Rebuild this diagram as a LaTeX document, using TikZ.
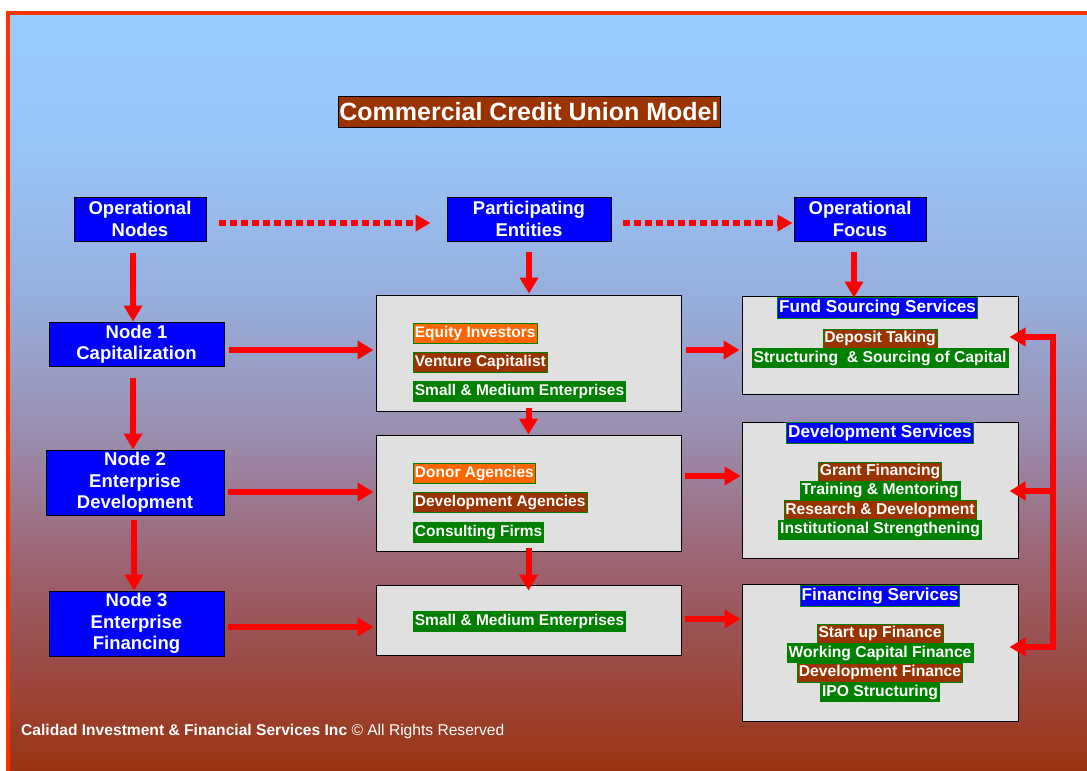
\documentclass[tikz,border=0pt]{standalone}
\usepackage{fontspec}
\setmainfont{Liberation Sans}
\usetikzlibrary{arrows.meta,calc}
\definecolor{cblue}{HTML}{0000FF}
\definecolor{corange}{HTML}{FF6600}
\definecolor{cbrown}{HTML}{993300}
\definecolor{cgreen}{HTML}{008000}
\definecolor{cgray}{HTML}{E0E0E0}
\definecolor{cred}{HTML}{FF0000}
\definecolor{cframe}{HTML}{FF3300}
\definecolor{bgA}{RGB}{153,204,255}
\definecolor{bgB}{RGB}{152,196,246}
\definecolor{bgC}{RGB}{151,174,220}
\definecolor{bgD}{RGB}{154,143,176}
\definecolor{bgE}{RGB}{156,100,115}
\definecolor{bgF}{RGB}{155,70,62}
\definecolor{bgG}{RGB}{153,51,12}
\begin{document}
\begin{tikzpicture}[x=1pt,y=-1pt,
  bluebox/.style={draw=black,line width=1pt,fill=cblue,text=white,
    font=\fontsize{18.5}{21.5}\selectfont\bfseries,align=center,inner sep=0pt},
  graybox/.style={draw=black,line width=1pt,fill=cgray,inner sep=0pt},
  lab/.style={text=white,font=\fontsize{15.5}{18}\selectfont\bfseries,
    text height=11.5pt,text depth=3.5pt,inner ysep=2.5pt,inner xsep=1.5pt,
    draw=cgreen,line width=0.8pt},
  ritem/.style={text=white,font=\fontsize{15.7}{19}\selectfont\bfseries,
    text height=11.6pt,text depth=3.4pt,inner ysep=2.2pt,inner xsep=1.5pt,
    draw=cgreen,line width=0.6pt},
  rhead/.style={fill=cblue,text=white,font=\fontsize{17.2}{20}\selectfont\bfseries,
    text height=12.3pt,text depth=4pt,inner ysep=2.3pt,inner xsep=1.5pt,
    draw=cgreen,line width=0.8pt},
  arr/.style={draw=cred,line width=6pt,-{Triangle[length=16pt,width=18pt]}},
  darr/.style={draw=cred,line width=6pt,dash pattern=on 7pt off 4pt,
    -{Triangle[length=15pt,width=16pt]}},
  ]
\useasboundingbox (0,0) rectangle (1087,771);
\begin{scope}
\clip (0,0) rectangle (1087,771);
\fill[white] (0,0) rectangle (1087,771);
\shade[top color=bgA,bottom color=bgB] (8,13) rectangle (1095,150.5);
\shade[top color=bgB,bottom color=bgC] (8,150) rectangle (1095,300.5);
\shade[top color=bgC,bottom color=bgD] (8,300) rectangle (1095,430.5);
\shade[top color=bgD,bottom color=bgE] (8,430) rectangle (1095,560.5);
\shade[top color=bgE,bottom color=bgF] (8,560) rectangle (1095,680.5);
\shade[top color=bgF,bottom color=bgG] (8,680) rectangle (1095,780);
\draw[cframe,line width=4pt] (8,13) rectangle (1095,773);
\end{scope}

% title
\node[draw=black,line width=1pt,fill=cbrown,text=white,
  font=\fontsize{25}{29}\selectfont\bfseries,minimum width=382pt,minimum height=31pt,inner sep=0pt]
  (title) at (529,111.5) {Commercial Credit Union Model};

% top row
\node[bluebox,minimum width=132pt,minimum height=44pt] (opn) at (140,219) {Operational\\Nodes};
\node[bluebox,minimum width=164pt,minimum height=44pt] (pe) at (529,219) {Participating\\Entities};
\node[bluebox,minimum width=132pt,minimum height=44pt] (of) at (860,219) {Operational\\Focus};

% left nodes
\node[bluebox,minimum width=175pt,minimum height=44pt] (n1) at (136.5,344) {Node 1\\Capitalization};
\node[bluebox,minimum width=178pt,minimum height=65pt] (n2) at (135,482.5) {Node 2\\Enterprise\\Development};
\node[bluebox,minimum width=175pt,minimum height=65pt] (n3) at (136.5,623.5) {Node 3\\Enterprise\\Financing};

% middle boxes
\node[graybox,minimum width=305pt,minimum height=116pt] (m1) at (528.5,353) {};
\node[graybox,minimum width=305pt,minimum height=116pt] (m2) at (528.5,493) {};
\node[graybox,minimum width=305pt,minimum height=70pt] (m3) at (528.5,620) {};

\node[lab,fill=corange,anchor=west] (l1) at (413,333.5) {Equity Investors};
\node[lab,fill=cbrown,anchor=west] (l2) at (413,362.5) {Venture Capitalist};
\node[lab,fill=cgreen,anchor=west] (l3) at (413,391.5) {Small \& Medium Enterprises};
\node[lab,fill=corange,anchor=west] (l4) at (413,473.5) {Donor Agencies};
\node[lab,fill=cbrown,anchor=west] (l5) at (413,502.5) {Development Agencies};
\node[lab,fill=cgreen,anchor=west] (l6) at (413,532.5) {Consulting Firms};
\node[lab,fill=cgreen,anchor=west] (l7) at (413,621.5) {Small \& Medium Enterprises};

% right boxes
\node[graybox,minimum width=276pt,minimum height=98pt] (r1) at (880,345) {};
\node[graybox,minimum width=276pt,minimum height=136pt] (r2) at (880,490) {};
\node[graybox,minimum width=276pt,minimum height=137pt] (r3) at (880,652.5) {};

\node[rhead] (h1) at (877.5,308) {Fund Sourcing Services};
\node[ritem,fill=cbrown] (i1) at (880,338.5) {Deposit Taking};
\node[ritem,fill=cgreen] (i2) at (880,358) {Structuring\ \ \& Sourcing of Capital};

\node[rhead] (h2) at (880,433) {Development Services};
\node[ritem,fill=cbrown] (i3) at (880,471.5) {Grant Financing};
\node[ritem,fill=cgreen] (i4) at (880,490.5) {Training \& Mentoring};
\node[ritem,fill=cbrown] (i5) at (880,510) {Research \& Development};
\node[ritem,fill=cgreen] (i6) at (880,529.5) {Institutional Strengthening};

\node[rhead] (h3) at (880,596) {Financing Services};
\node[ritem,fill=cbrown] (i7) at (880,633.5) {Start up Finance};
\node[ritem,fill=cgreen] (i8) at (880,653) {Working Capital Finance};
\node[ritem,fill=cbrown] (i9) at (880,672.5) {Development Finance};
\node[ritem,fill=cgreen] (i10) at (880,692) {IPO Structuring};

% footer
\node[anchor=west,text=white,inner sep=0pt,font=\fontsize{15.6}{18}\selectfont] (foot) at (21,731)
  {\textbf{Calidad Investment \& Financial Services Inc} © All Rights Reserved};

% dotted arrows
\draw[darr] ([xshift=12pt,yshift=-4pt]opn.east) -- ([xshift=-16pt,yshift=-4pt]pe.west);
\draw[darr] ([xshift=11pt,yshift=-4pt]pe.east) -- ([xshift=-1pt,yshift=-4pt]of.west);

% left column arrows
\draw[arr,shorten <=11pt] ([xshift=-7pt]opn.south) -- ([xshift=-7pt]opn.south |- n1.north);
\draw[arr,shorten <=11pt] ([xshift=-3.5pt]n1.south) -- ([xshift=-3.5pt]n1.south |- n2.north);
\draw[arr,shorten <=4pt] ([xshift=-1pt]n2.south) -- ([xshift=-1pt]n2.south |- n3.north);

% left to middle
\draw[arr,shorten <=4pt] ([yshift=-6pt]n1.east) -- ([yshift=-6pt,xshift=-2pt]n1.east -| m1.west);
\draw[arr,shorten <=3pt] ([yshift=-9.5pt]n2.east) -- ([yshift=-9.5pt,xshift=-2pt]n2.east -| m2.west);
\draw[arr,shorten <=3pt] ([yshift=-3.5pt]n3.east) -- ([yshift=-3.5pt,xshift=-2pt]n3.east -| m3.west);

% middle column arrows
\draw[arr,shorten <=10pt] (pe.south) -- ([yshift=1pt]pe.south |- m1.north);
\draw[arr,shorten <=-4pt] (m1.south) -- (m2.north);
\draw[arr,shorten <=-4pt] (m2.south) -- ([yshift=-6pt]m3.north);

% middle to right
\draw[arr,shorten <=4pt] ([yshift=3pt]m1.east) -- ([yshift=3pt,xshift=-2pt]m1.east -| r1.west);
\draw[arr,shorten <=3pt] ([yshift=17pt]m2.east) -- ([yshift=17pt,xshift=-1pt]m2.east -| r2.west);
\draw[arr,shorten <=3pt] ([yshift=1pt]m3.east) -- ([yshift=1pt,xshift=-1pt]m3.east -| r3.west);

% operational focus down
\draw[arr,shorten <=10pt] ([xshift=-6pt]of.south) -- ([xshift=-6pt,yshift=-2pt]of.south |- r1.north);

% right bracket
\coordinate (brtop) at ([xshift=34pt,yshift=8pt]r1.east);
\coordinate (brmid) at ([xshift=34pt,yshift=-1pt]r2.east);
\coordinate (brbot) at ([xshift=34pt,yshift=5.5pt]r3.east);
\draw[cred,line width=6pt,line join=miter,{Triangle[length=16pt,width=18pt]}-{Triangle[length=16pt,width=18pt]}]
  ([xshift=-9pt]r3.east |- brbot) -- (brbot) -- (brtop) -- ([xshift=-9pt]r1.east |- brtop);
\draw[arr] (brmid) -- ([xshift=-9pt]r2.east |- brmid);
\end{tikzpicture}
\end{document}
